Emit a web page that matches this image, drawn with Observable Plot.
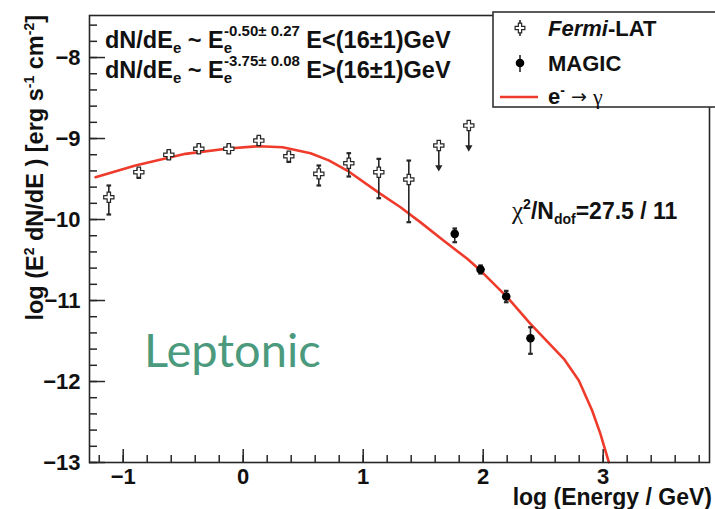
<!DOCTYPE html>
<html><head><meta charset="utf-8">
<script src="https://cdn.jsdelivr.net/npm/d3@7"></script>
<script src="https://cdn.jsdelivr.net/npm/@observablehq/plot@0.6"></script>
<style>
html,body{margin:0;padding:0;background:#fff;}
#chart{width:715px;height:509px;overflow:hidden;}
</style></head><body><div id="chart"></div>
<script>
// ---- data (log10 E/GeV, log10 E^2 dN/dE) ----
const fermiX = [-1.12, -0.87, -0.62, -0.37, -0.12, 0.13, 0.38, 0.63, 0.88, 1.13, 1.38];
const fermiY = [-9.725, -9.416, -9.201, -9.127, -9.127, -9.025, -9.219, -9.436, -9.305, -9.416, -9.506];
const fermiErrLo = [0.213, 0.07, 0.05, 0.05, 0.05, 0.05, 0.07, 0.144, 0.164, 0.321, 0.527];
const fermiErrHi = [0.145, 0.04, 0.04, 0.04, 0.04, 0.04, 0.04, 0.103, 0.124, 0.165, 0.234];
const fermiUlX = [1.63, 1.88];
const fermiUlY = [-9.086, -8.840];
const magicX = [1.763, 1.978, 2.192, 2.394];
const magicY = [-10.177, -10.617, -10.951, -11.465];
const magicErrLo = [0.103, 0.05, 0.07, 0.193];
const magicErrHi = [0.066, 0.05, 0.07, 0.135];
const modelX = [-1.231, -0.898, -0.481, -0.123, 0.128, 0.328, 0.561, 0.713, 0.867, 1.144, 1.311, 1.478, 1.669, 1.867, 1.978, 2.2, 2.394, 2.672, 2.797, 2.908, 2.977, 3.047];
const modelY = [-9.478, -9.333, -9.189, -9.123, -9.095, -9.107, -9.181, -9.27, -9.395, -9.683, -9.848, -10.035, -10.258, -10.485, -10.63, -10.959, -11.288, -11.72, -11.988, -12.358, -12.646, -12.996];
const xMajor = [-1, 0, 1, 2, 3];
const yMajor = [-13, -12, -11, -10, -9, -8];
const xMinor = d3.range(-12, 39, 2).map(v => v / 10);
const yMinor = d3.range(-130, -75, 2).map(v => v / 10);
const ulLen = 0.27;

// ---- tables ----
const fermi = fermiX.map((x, i) => ({x, y: fermiY[i], lo: fermiY[i] - fermiErrLo[i], hi: fermiY[i] + fermiErrHi[i]}));
const magic = magicX.map((x, i) => ({x, y: magicY[i], lo: magicY[i] - magicErrLo[i], hi: magicY[i] + magicErrHi[i]}));
const ul = fermiUlX.map((x, i) => ({x, y: fermiUlY[i], tip: fermiUlY[i] - ulLen}));
const model = modelX.map((x, i) => ({x, y: modelY[i]}));

const W = 715, H = 509, mL = 89, mR = 6, mT = 15, mB = 47;
const fw = W - mL - mR, fh = H - mT - mB;
const ink = "#262626";
const red = "#ee3b2b";
const hbar = {draw(ctx, size) { const w = Math.sqrt(size); ctx.moveTo(-w / 2, 0); ctx.lineTo(w / 2, 0); }};

const plot = Plot.plot({
  width: W, height: H,
  marginLeft: mL, marginRight: mR, marginTop: mT, marginBottom: mB,
  style: {fontFamily: "'Liberation Sans', Arial, sans-serif", fontSize: "22px", fontWeight: "bold", color: "#111", background: "#fff"},
  x: {domain: [-1.281, 3.886]},
  y: {domain: [-13, -7.481]},
  marks: [
    Plot.tickY(yMinor, {y: d => d, insetRight: fw - 8, stroke: ink, strokeWidth: 1.5}),
    Plot.tickY(yMajor, {y: d => d, insetRight: fw - 16, stroke: ink, strokeWidth: 1.5}),
    Plot.tickX(xMinor, {x: d => d, insetTop: fh - 7, stroke: ink, strokeWidth: 1.5}),
    Plot.tickX(xMajor, {x: d => d, insetTop: fh - 13, stroke: ink, strokeWidth: 1.5}),
    Plot.axisY({ticks: yMajor, tickSize: 0, tickPadding: 9, label: null, tickFormat: d3.format("d")}),
    Plot.axisX({ticks: xMajor, tickSize: 0, tickPadding: 6, label: null, tickFormat: d3.format("d")}),
    Plot.line(model, {x: "x", y: "y", stroke: red, strokeWidth: 2.6, curve: "linear"}),
    // Fermi error bars
    Plot.ruleX(fermi, {x: "x", y1: "lo", y2: "hi", stroke: ink, strokeWidth: 1.6}),
    Plot.dot(fermi, {x: "x", y: "lo", symbol: hbar, r: 2.6, stroke: ink, strokeWidth: 2.2}),
    Plot.dot(fermi, {x: "x", y: "hi", symbol: hbar, r: 2.6, stroke: ink, strokeWidth: 2.2}),
    Plot.dot(fermi, {x: "x", y: "y", symbol: d3.symbolCross, r: 4.3, fill: "#fff", stroke: ink, strokeWidth: 1.2}),
    // upper limits
    Plot.ruleX(ul, {x: "x", y1: "y", y2: "tip", stroke: ink, strokeWidth: 1.6}),
    Plot.dot(ul, {x: "x", y: "tip", symbol: "triangle2", rotate: 180, r: 3.5, fill: ink}),
    Plot.dot(ul, {x: "x", y: "y", symbol: d3.symbolCross, r: 4.3, fill: "#fff", stroke: ink, strokeWidth: 1.2}),
    // MAGIC
    Plot.ruleX(magic, {x: "x", y1: "lo", y2: "hi", stroke: ink, strokeWidth: 1.6}),
    Plot.dot(magic, {x: "x", y: "lo", symbol: hbar, r: 2.6, stroke: ink, strokeWidth: 2.2}),
    Plot.dot(magic, {x: "x", y: "hi", symbol: hbar, r: 2.6, stroke: ink, strokeWidth: 2.2}),
    Plot.dot(magic, {x: "x", y: "y", r: 4.3, fill: "#000"}),
    Plot.frame({stroke: ink, strokeWidth: 1.6})
  ]
});
document.getElementById("chart").append(plot);

// ---- rich text helper ----
const svg = d3.select(plot);
function rich(x, y, parts, attrs = {}) {
  const t = svg.append("text").attr("x", x).attr("y", y)
    .attr("text-anchor", "start")
    .attr("font-family", "'Liberation Sans', Arial, sans-serif").attr("font-weight", "bold")
    .attr("font-size", 22).attr("fill", "#111");
  for (const [k, v] of Object.entries(attrs)) t.attr(k, v);
  for (const p of parts) {
    const s = t.append("tspan").text(p.t);
    if (p.dx != null) s.attr("dx", p.dx);
    if (p.dy != null) s.attr("dy", p.dy);
    if (p.size) s.attr("font-size", p.size);
    if (p.style) s.attr("font-style", p.style);
    if (p.weight) s.attr("font-weight", p.weight);
    if (p.family) s.attr("font-family", p.family);
  }
  return t;
}

// axis titles
rich(0, 0, [
  {t: "log (E"}, {t: "2", size: 14, dy: -9}, {t: " dN/dE ) [erg s", dy: 9},
  {t: "-1", size: 14, dy: -9}, {t: " cm", dy: 9}, {t: "-2", size: 14, dy: -9}, {t: "]", dy: 9}
], {transform: "translate(43,15) rotate(-90)", "text-anchor": "end", "font-size": 23.5});
rich(712, 505, [{t: "log (Energy / GeV)"}], {"text-anchor": "end", "font-size": 23});

// spectral index annotations
rich(105, 48, [
  {t: "dN/dE"}, {t: "e", size: 15, dy: 5}, {t: " ~ E", dy: -5},
  {t: "e", size: 15, dy: 5}, {t: "-0.50± 0.27", size: 15, dx: -8, dy: -17},
  {t: " E<(16±1)GeV", dy: 12}
], {"font-size": 23.5});
rich(105, 78, [
  {t: "dN/dE"}, {t: "e", size: 15, dy: 5}, {t: " ~ E", dy: -5},
  {t: "e", size: 15, dy: 5}, {t: "-3.75± 0.08", size: 15, dx: -8, dy: -17},
  {t: " E>(16±1)GeV", dy: 12}
], {"font-size": 23.5});

// chi2
rich(512, 219, [
  {t: "χ", family: "'Liberation Serif', serif", weight: "normal", size: 25},
  {t: "2", size: 14, dy: -10}, {t: "/N", size: 23, dy: 10},
  {t: "dof", size: 14, dy: 5}, {t: "=27.5 / 11", size: 23, dy: -5}
]);

// Leptonic label
svg.append("text").attr("x", 144).attr("y", 367).attr("text-anchor", "start").text("Leptonic")
  .attr("font-family", "Lato, 'Open Sans', sans-serif").attr("font-weight", "normal")
  .attr("font-size", 47).attr("fill", "#4b9a7d");

// legend
const lg = svg.append("g");
lg.append("rect").attr("x", 493).attr("y", 12).attr("width", 240).attr("height", 95)
  .attr("fill", "#fff").attr("stroke", "#333").attr("stroke-width", 1.6);
lg.append("line").attr("x1", 520).attr("x2", 520).attr("y1", 20).attr("y2", 36).attr("stroke", ink).attr("stroke-width", 1.6);
lg.append("path").attr("transform", "translate(520,28)").attr("d", d3.symbol(d3.symbolCross, 4.1 * 4.1 * Math.PI)())
  .attr("fill", "#fff").attr("stroke", ink).attr("stroke-width", 1.2);
rich(548, 36, [{t: "Fermi", style: "italic"}, {t: "-LAT"}]);
lg.append("line").attr("x1", 520).attr("x2", 520).attr("y1", 55).attr("y2", 72).attr("stroke", ink).attr("stroke-width", 1.6);
lg.append("circle").attr("cx", 520).attr("cy", 63).attr("r", 4.3).attr("fill", "#000");
rich(548, 71, [{t: "MAGIC"}]);
lg.append("line").attr("x1", 500).attr("x2", 538).attr("y1", 97).attr("y2", 97).attr("stroke", red).attr("stroke-width", 2.6);
rich(548, 104, [
  {t: "e"}, {t: "-", size: 14, dy: -9}, {t: " → ", weight: "normal", size: 19, family: "'DejaVu Sans', sans-serif", dy: 8},
  {t: "γ", family: "'Liberation Serif', serif", weight: "normal", size: 22, dy: 1}
]);
</script>
</body></html>
